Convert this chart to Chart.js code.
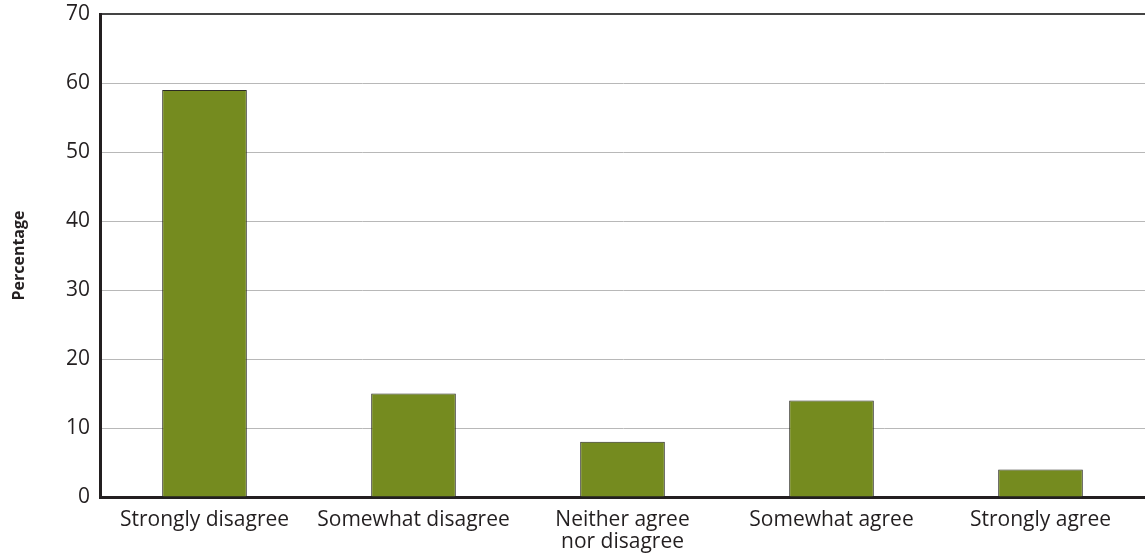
<!DOCTYPE html>
<html>
<head>
<meta charset="utf-8">
<script src="https://cdn.jsdelivr.net/npm/chart.js@4"></script>
<style>
    html, body { margin: 0; padding: 0; background: #fff; }
    #box { width: 1145px; height: 556px; }
</style>
</head>
<body>
<div id="box"><canvas id="chart"></canvas></div>
<script>
// 数据
var categories = ["Strongly disagree", "Somewhat disagree", ["Neither agree", "nor disagree"], "Somewhat agree", "Strongly agree"];
var percentages = [59, 15, 8, 14, 4];
var yTicks = [0, 10, 20, 30, 40, 50, 60, 70];

var textColor = '#231f20';
var fontName = '"Open Sans", "Noto Sans", sans-serif';

// 画柱状图
new Chart(document.getElementById("chart"), {
    type: 'bar',
    data: {
        labels: categories,
        datasets: [{
            data: percentages,
            backgroundColor: '#758b1f',
            borderColor: '#2b2b23',
            borderWidth: 1,
            barPercentage: 0.405,
            categoryPercentage: 1.0
        }]
    },
    options: {
        responsive: true,
        maintainAspectRatio: false,
        animation: false,
        layout: {
            padding: { left: 0, top: 14, right: 0, bottom: 0 }
        },
        plugins: {
            legend: { display: false },
            tooltip: { enabled: false }
        },
        scales: {
            x: {
                grid: { display: false, drawTicks: false },
                border: { display: true, color: textColor, width: 3 },
                ticks: {
                    color: textColor,
                    padding: 12,
                    maxRotation: 0,
                    autoSkip: false,
                    font: { family: fontName, size: 21, lineHeight: 1.05 }
                },
                afterFit: function(scale) {
                    scale.height = 59;
                    scale.paddingLeft = 0;
                    scale.paddingRight = 0;
                }
            },
            y: {
                min: 0,
                max: 70,
                afterBuildTicks: function(scale) {
                    scale.ticks = yTicks.map(function(v) { return { value: v }; });
                },
                grid: {
                    drawTicks: false,
                    color: function(ctx) {
                        return ctx.tick && ctx.tick.value == 70 ? '#444' : '#b8b8b8';
                    },
                    lineWidth: function(ctx) {
                        return ctx.tick && ctx.tick.value == 70 ? 2 : 1;
                    }
                },
                border: { display: true, color: textColor, width: 3 },
                ticks: {
                    color: textColor,
                    padding: 10,
                    font: { family: fontName, size: 21 }
                },
                title: {
                    display: true,
                    text: 'Percentage',
                    color: textColor,
                    padding: { top: 10, bottom: 20 },
                    font: { family: fontName, size: 16, weight: 'bold' }
                },
                afterFit: function(scale) {
                    scale.width = 100;
                    scale.paddingTop = 0;
                    scale.paddingBottom = 0;
                }
            }
        }
    }
});
</script>
</body>
</html>
